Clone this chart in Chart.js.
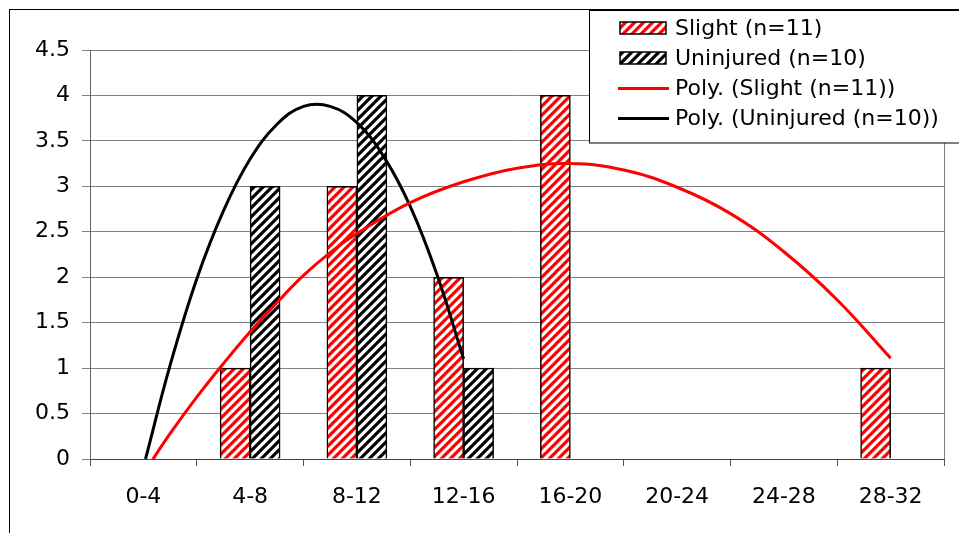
<!DOCTYPE html>
<html>
<head>
<meta charset="utf-8">
<script src="https://cdn.jsdelivr.net/npm/chart.js@4.4.1/dist/chart.umd.min.js"></script>
<style>
  html, body { margin: 0; padding: 0; background: #fff; }
  #wrap { width: 959px; height: 533px; position: relative; }
</style>
</head>
<body>
<div id="wrap"><canvas id="chart"></canvas></div>
<script>
// age groups on the x axis
const categories = ['0-4', '4-8', '8-12', '12-16', '16-20', '20-24', '24-28', '28-32'];
// counts (blank = no bar)
const slight = [null, 1, 3, 2, 4, null, null, 1];
const uninjured = [null, 3, 4, 1, null, null, null, null];

// trendlines (x in category index units)
const slightTrendX = [0.09, 0.25, 0.5, 0.75, 1, 1.25, 1.5, 1.75, 2, 2.5, 3, 3.5, 4, 4.5, 5, 5.5, 6, 6.5, 7];
const slightTrendY = [0, 0.28, 0.68, 1.05, 1.4, 1.72, 2.02, 2.27, 2.48, 2.82, 3.05, 3.2, 3.25, 3.18, 2.99, 2.7, 2.28, 1.75, 1.11];
const uninjuredTrendX = [0.02, 0.25, 0.5, 0.75, 1, 1.25, 1.5, 1.75, 2, 2.25, 2.5, 2.75, 3];
const uninjuredTrendY = [0, 1.03, 1.98, 2.73, 3.3, 3.68, 3.88, 3.88, 3.7, 3.33, 2.78, 2.03, 1.1];

const legendLabels = ['Slight (n=11)', 'Uninjured (n=10)', 'Poly. (Slight (n=11))', 'Poly. (Uninjured (n=10))'];

const FONT = 'DejaVu Sans';
const Y_MAX = 4.5;

function hatch(color) {
  const s = 9;
  const c = document.createElement('canvas');
  c.width = s; c.height = s;
  const g = c.getContext('2d');
  g.fillStyle = '#fff';
  g.fillRect(0, 0, s, s);
  g.strokeStyle = color;
  g.lineWidth = 3.2;
  g.beginPath();
  g.moveTo(0, s); g.lineTo(s, 0);
  g.moveTo(-s / 2, s / 2); g.lineTo(s / 2, -s / 2);
  g.moveTo(s / 2, s * 1.5); g.lineTo(s * 1.5, s / 2);
  g.stroke();
  return g.createPattern(c, 'repeat');
}

const redHatch = hatch('#ff0000');
const blackHatch = hatch('#000000');

function points(xs, ys) {
  return xs.map((x, i) => ({ x: x, y: ys[i] }));
}
// bars sit on the hidden linear axis at their category index
function barPoints(vals) {
  return vals.map((v, i) => ({ x: i, y: v }));
}

const framePlugin = {
  id: 'frame',
  beforeDraw(chart) {
    const ctx = chart.ctx;
    ctx.save();
    ctx.fillStyle = '#fff';
    ctx.fillRect(0, 0, chart.width, chart.height);
    ctx.restore();
  },
  beforeDatasetsDraw(chart) {
    const ctx = chart.ctx;
    const a = chart.chartArea;
    ctx.save();
    // right edge of plot area
    ctx.strokeStyle = '#808080';
    ctx.lineWidth = 1;
    ctx.beginPath();
    ctx.moveTo(Math.round(a.right) + 0.5, a.top);
    ctx.lineTo(Math.round(a.right) + 0.5, a.bottom);
    ctx.stroke();
    ctx.restore();
  },
  afterDraw(chart) {
    const ctx = chart.ctx;
    ctx.save();
    // outer chart border
    ctx.strokeStyle = '#000';
    ctx.lineWidth = 1;
    ctx.strokeRect(9.5, 9.5, 1000, 1000);

    // legend box
    ctx.fillStyle = '#fff';
    ctx.fillRect(589.5, 10.5, 400, 132.5);
    ctx.strokeRect(589.5, 10.5, 400, 132.5);

    const ds = chart.data.datasets;
    const rowY = [28, 58, 88, 118];
    ctx.font = '22px "' + FONT + '"';
    ctx.textBaseline = 'middle';
    ctx.textAlign = 'left';
    rowY.forEach((y, i) => {
      const d = ds[i];
      if (d.type === 'line') {
        ctx.strokeStyle = d.borderColor;
        ctx.lineWidth = 3;
        ctx.beginPath();
        ctx.moveTo(618, y + 0.5);
        ctx.lineTo(669, y + 0.5);
        ctx.stroke();
      } else {
        ctx.fillStyle = d.backgroundColor;
        ctx.fillRect(620, y - 6, 46, 12);
        ctx.strokeStyle = '#000';
        ctx.lineWidth = 1.5;
        ctx.strokeRect(620, y - 6, 46, 12);
      }
      ctx.fillStyle = '#000';
      ctx.fillText(legendLabels[i], 675, y + 1);
    });
    ctx.restore();
  }
};

new Chart(document.getElementById('chart'), {
  type: 'bar',
  data: {
    labels: categories,
    datasets: [
      {
        label: legendLabels[0], data: barPoints(slight), backgroundColor: redHatch,
        borderColor: '#000', borderWidth: 1.5, order: 2, xAxisID: 'xt', yAxisID: 'y',
        barThickness: 30
      },
      {
        label: legendLabels[1], data: barPoints(uninjured), backgroundColor: blackHatch,
        borderColor: '#000', borderWidth: 1.5, order: 2, xAxisID: 'xt', yAxisID: 'y',
        barThickness: 30
      },
      {
        type: 'line', label: legendLabels[2], xAxisID: 'xt', yAxisID: 'y',
        data: points(slightTrendX, slightTrendY),
        borderColor: '#ff0000', borderWidth: 3, pointRadius: 0, tension: 0.4, fill: false, order: 1
      },
      {
        type: 'line', label: legendLabels[3], xAxisID: 'xt', yAxisID: 'y',
        data: points(uninjuredTrendX, uninjuredTrendY),
        borderColor: '#000000', borderWidth: 3, pointRadius: 0, tension: 0.4, fill: false, order: 1
      }
    ]
  },
  options: {
    responsive: true,
    maintainAspectRatio: false,
    animation: false,
    layout: { padding: { left: 0, right: 15, top: 50, bottom: 0 } },
    plugins: {
      legend: { display: false },
      tooltip: { enabled: false }
    },
    scales: {
      x: {
        type: 'category',
        offset: true,
        grid: { display: true, drawOnChartArea: false, drawTicks: true, tickLength: 7, color: '#555', offset: true },
        border: { display: true, color: '#444', width: 1 },
        ticks: { color: '#000', font: { family: FONT, size: 22 }, padding: 18, maxRotation: 0, autoSkip: false },
        afterFit(scale) { scale.height = 74; }
      },
      xt: { type: 'linear', min: -0.5, max: 7.5, offset: false, display: false },
      y: {
        min: 0, max: Y_MAX,
        ticks: {
          stepSize: 0.5, color: '#000', font: { family: FONT, size: 22 }, padding: 12,
          callback: v => String(v)
        },
        grid: { color: '#808080', lineWidth: 1, drawTicks: true, tickLength: 8 },
        border: { display: true, color: '#666', width: 1 },
        afterFit(scale) { scale.width = 90; }
      }
    }
  },
  plugins: [framePlugin]
});
</script>
</body>
</html>
